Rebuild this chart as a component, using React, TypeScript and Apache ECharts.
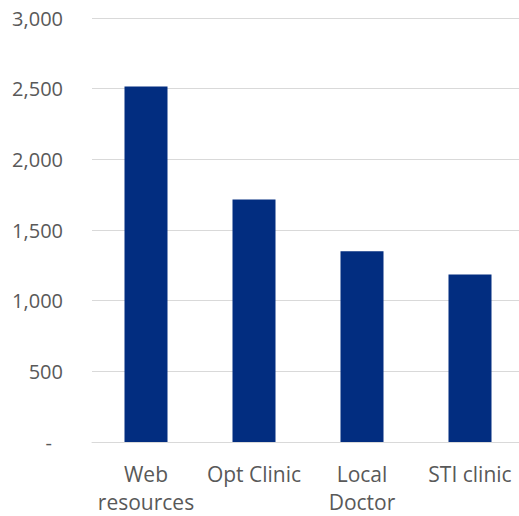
import React, { useEffect, useRef } from "react";
import * as echarts from "echarts";

const categories = ["Web\nresources", "Opt Clinic", "Local\nDoctor", "STI clinic"];
const values = [2515, 1715, 1350, 1185];
const yMin = 0;
const yMax = 3000;
const yInterval = 500;

export default function App() {
  const ref = useRef<HTMLDivElement>(null);
  useEffect(() => {
    if (!ref.current) return;
    const chart = echarts.init(ref.current, null, { renderer: "svg" });
    chart.setOption({
      animation: false,
      grid: { left: 92, top: 18, width: 432, height: 427, containLabel: false },
      xAxis: {
        type: "category",
        data: categories,
        axisLine: { lineStyle: { color: "#d9d9d9", width: 1 } },
        axisTick: { show: false },
        axisLabel: {
          color: "#595959",
          fontFamily: "Open Sans",
          fontSize: 21,
          lineHeight: 28,
          margin: 18,
          interval: 0,
        },
      },
      yAxis: {
        type: "value",
        min: yMin,
        max: yMax,
        interval: yInterval,
        axisLine: { show: false },
        axisTick: { show: false },
        splitLine: { lineStyle: { color: "#d9d9d9", width: 1 } },
        axisLabel: {
          color: "#595959",
          fontFamily: "Open Sans",
          fontSize: 20,
          margin: 29,
          formatter: (v: number) =>
            v === 0 ? "{z|-}" : v.toLocaleString("en-US"),
          rich: {
            z: {
              color: "#595959",
              fontFamily: "Open Sans",
              fontSize: 20,
              padding: [0, 11, 0, 0],
            },
          },
        },
      },
      series: [
        {
          type: "bar",
          data: values,
          barWidth: 43,
          itemStyle: { color: "#022D80" },
        },
      ],
    });
    return () => chart.dispose();
  }, []);
  return (
    <div
      style={{
        position: "fixed",
        left: 0,
        top: 0,
        width: 519,
        height: 516,
        overflow: "hidden",
        background: "#fff",
      }}
    >
      <div ref={ref} style={{ width: 530, height: 516 }} />
    </div>
  );
}
